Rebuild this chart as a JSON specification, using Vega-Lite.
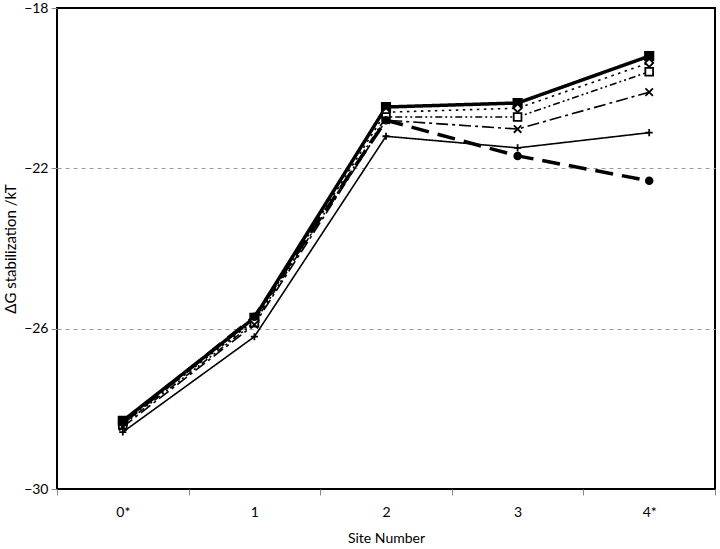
{
  "$schema": "https://vega.github.io/schema/vega-lite/v6.json",
  "width": 658,
  "height": 481,
  "autosize": {"type": "none"},
  "padding": {"left": 57, "top": 8, "right": 5, "bottom": 60},
  "background": "white",
  "config": {
    "view": {"stroke": "black", "strokeWidth": 2},
    "font": "Lato"
  },
  "resolve": {"scale": {"strokeDash": "independent"}},
  "data": {
    "values": [
      {"site": 0, "series": "A", "value": -28.30},
      {"site": 1, "series": "A", "value": -25.73},
      {"site": 2, "series": "A", "value": -20.47},
      {"site": 3, "series": "A", "value": -20.37},
      {"site": 4, "series": "A", "value": -19.20},
      {"site": 0, "series": "B", "value": -28.35},
      {"site": 1, "series": "B", "value": -25.80},
      {"site": 2, "series": "B", "value": -20.60},
      {"site": 3, "series": "B", "value": -20.50},
      {"site": 4, "series": "B", "value": -19.37},
      {"site": 0, "series": "C", "value": -28.40},
      {"site": 1, "series": "C", "value": -25.85},
      {"site": 2, "series": "C", "value": -20.72},
      {"site": 3, "series": "C", "value": -20.72},
      {"site": 4, "series": "C", "value": -19.59},
      {"site": 0, "series": "D", "value": -28.45},
      {"site": 1, "series": "D", "value": -25.90},
      {"site": 2, "series": "D", "value": -20.80},
      {"site": 3, "series": "D", "value": -21.02},
      {"site": 4, "series": "D", "value": -20.10},
      {"site": 0, "series": "E", "value": -28.58},
      {"site": 1, "series": "E", "value": -26.20},
      {"site": 2, "series": "E", "value": -21.20},
      {"site": 3, "series": "E", "value": -21.49},
      {"site": 4, "series": "E", "value": -21.11},
      {"site": 0, "series": "F", "value": -28.35},
      {"site": 1, "series": "F", "value": -25.70},
      {"site": 2, "series": "F", "value": -20.80},
      {"site": 3, "series": "F", "value": -21.69},
      {"site": 4, "series": "F", "value": -22.31}
    ]
  },
  "encoding": {
    "x": {
      "field": "site",
      "type": "quantitative",
      "scale": {"domain": [-0.5, 4.5], "nice": false, "zero": false},
      "axis": {
        "values": [-0.5, 0.5, 1.5, 2.5, 3.5, 4.5],
        "labelExpr": "datum.value < 0 ? '0*' : datum.value < 1 ? '1' : datum.value < 2 ? '2' : datum.value < 3 ? '3' : datum.value < 4 ? '4*' : ''",
        "labelOffset": 65.8,
        "labelBound": false,
        "labelFlush": false,
        "labelOverlap": false,
        "grid": false,
        "domain": false,
        "ticks": true,
        "tickColor": "#888888",
        "tickSize": 6,
        "labelPadding": 10,
        "labelFontSize": 14,
        "labelColor": "black",
        "title": "Site Number",
        "titleFontSize": 14,
        "titleFontWeight": "normal",
        "titlePadding": 12
      }
    },
    "y": {
      "field": "value",
      "type": "quantitative",
      "scale": {"domain": [-30, -18], "nice": false, "zero": false},
      "axis": {
        "values": [-30, -26, -22, -18],
        "grid": true,
        "gridColor": "#999999",
        "gridDash": [4, 4],
        "gridWidth": 1,
        "gridOpacity": {"condition": {"test": "datum.value == -22 || datum.value == -26", "value": 1}, "value": 0},
        "domain": false,
        "tickColor": "#888888",
        "tickSize": 6,
        "labelFontSize": 14,
        "labelColor": "black",
        "labelPadding": 3,
        "title": "ΔG stabilization /kT",
        "titleFontSize": 15,
        "titleFontWeight": "normal",
        "titlePadding": 5
      }
    }
  },
  "layer": [
    {
      "transform": [{"filter": "datum.series == 'A' || datum.series == 'F'"}],
      "mark": {"type": "line", "color": "black", "strokeWidth": 3.5},
      "encoding": {
        "detail": {"field": "series"},
        "strokeDash": {
          "field": "series",
          "type": "nominal",
          "scale": {"domain": ["A", "F"], "range": [[1, 0], [18, 9]]},
          "legend": null
        }
      }
    },
    {
      "transform": [{"filter": "datum.series != 'A' && datum.series != 'F'"}],
      "mark": {"type": "line", "color": "black", "strokeWidth": 1.6},
      "encoding": {
        "detail": {"field": "series"},
        "strokeDash": {
          "field": "series",
          "type": "nominal",
          "scale": {
            "domain": ["B", "C", "D", "E"],
            "range": [[2.5, 4.5], [7, 3, 2, 3, 2, 3], [12, 4, 3, 4], [1, 0]]
          },
          "legend": null
        }
      }
    },
    {
      "mark": {"type": "point", "opacity": 1, "stroke": "black", "strokeWidth": 1.8},
      "encoding": {
        "shape": {
          "field": "series",
          "type": "nominal",
          "scale": {
            "domain": ["A", "B", "C", "D", "E", "F"],
            "range": ["square", "diamond", "square", "M-1,-1L1,1M-1,1L1,-1", "M-1,0L1,0M0,-1L0,1", "circle"]
          },
          "legend": null
        },
        "fill": {
          "field": "series",
          "type": "nominal",
          "scale": {
            "domain": ["A", "B", "C", "D", "E", "F"],
            "range": ["black", "white", "white", "transparent", "transparent", "black"]
          },
          "legend": null
        },
        "size": {
          "field": "series",
          "type": "nominal",
          "scale": {
            "domain": ["A", "B", "C", "D", "E", "F"],
            "range": [70, 45, 55, 50, 60, 90]
          },
          "legend": null
        }
      }
    }
  ]
}
